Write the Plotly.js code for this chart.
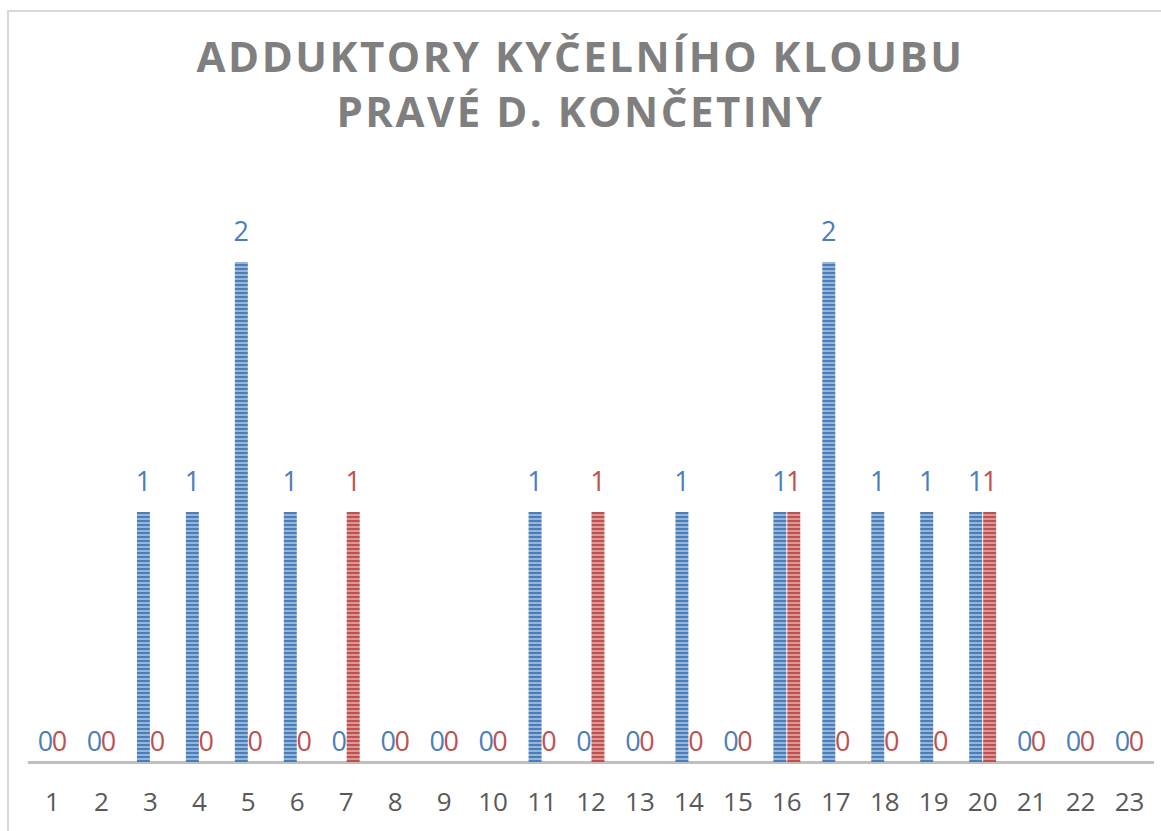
<!DOCTYPE html>
<html>
<head>
<meta charset="utf-8">
<script src="https://cdn.plot.ly/plotly-3.0.1.min.js"></script>
<style>
html, body { margin: 0; padding: 0; background: #fff; }
#wrap { position: relative; width: 1161px; height: 831px; overflow: hidden; }
#frame { position: absolute; left: 7px; top: 10px; width: 1200px; height: 900px; border: 2px solid #d9d9d9; box-sizing: border-box; }
#chart { position: absolute; left: 0; top: 0; width: 1161px; height: 831px; }
</style>
</head>
<body>
<div id="wrap">
<div id="frame"></div>
<div id="chart"></div>
</div>
<script>
const categories = ["1","2","3","4","5","6","7","8","9","10","11","12","13","14","15","16","17","18","19","20","21","22","23"];
const seriesBlue = [0,0,1,1,2,1,0,0,0,0,1,0,0,1,0,1,2,1,1,1,0,0,0];
const seriesRed  = [0,0,0,0,0,0,1,0,0,0,0,1,0,0,0,1,0,0,0,1,0,0,0];
const titleText = "ADDUKTORY KYČELNÍHO KLOUBU<br>PRAVÉ D. KONČETINY";

const labelFont = { family: "Open Sans, sans-serif", size: 27 };

function barTrace(vals, dark, light, name) {
  return {
    type: "bar",
    name: name,
    x: categories,
    y: vals,
    text: vals.map(String),
    textposition: "outside",
    constraintext: "none",
    cliponaxis: false,
    textfont: Object.assign({ color: dark }, labelFont),
    outsidetextfont: Object.assign({ color: dark }, labelFont),
    marker: {
      color: dark,
      line: { width: 0 },
      pattern: { shape: "-", bgcolor: dark, fgcolor: light, size: 4, solidity: 0.35, fillmode: "replace" }
    },
    hoverinfo: "x+y"
  };
}

const data = [
  barTrace(seriesBlue, "#4a7ebb", "#b9cde5", "Série 1"),
  barTrace(seriesRed, "#c0504d", "#e6b9b8", "Série 2")
];

const layout = {
  width: 1161,
  height: 831,
  margin: { l: 28, r: 7, t: 137, b: 69, pad: 0 },
  paper_bgcolor: "rgba(0,0,0,0)",
  plot_bgcolor: "rgba(0,0,0,0)",
  showlegend: false,
  barmode: "group",
  bargap: 0.43,
  bargroupgap: 0.07,
  title: {
    text: titleText,
    font: { family: "Open Sans, sans-serif", size: 42, color: "#7f7f7f", weight: "bold" },
    x: 0.5,
    xanchor: "center",
    xref: "container",
    y: 1 - 72 / 831,
    yanchor: "top",
    yref: "container"
  },
  xaxis: {
    type: "category",
    showgrid: false,
    zeroline: false,
    showline: false,
    ticks: "",
    tickfont: { family: "Open Sans, sans-serif", size: 26, color: "#595959" },
    ticklabelstandoff: 22
  },
  yaxis: {
    range: [0, 2.5],
    showgrid: false,
    zeroline: true,
    zerolinecolor: "#bfbfbf",
    zerolinewidth: 3,
    showline: false,
    showticklabels: false,
    ticks: ""
  }
};

Plotly.newPlot("chart", data, layout, { displayModeBar: false, staticPlot: true }).then(function (gd) {
  const t = gd.querySelector(".g-gtitle text");
  if (t) { t.style.letterSpacing = "2.5px"; }
  // extra label padding above non-zero bars, like the original's data labels
  gd.querySelectorAll("text.bartext").forEach(function (el) {
    if (el.textContent.trim() !== "0") {
      const tr = el.getAttribute("transform") || "";
      el.setAttribute("transform", "translate(0,-10) " + tr);
    }
  });
});
</script>
</body>
</html>
